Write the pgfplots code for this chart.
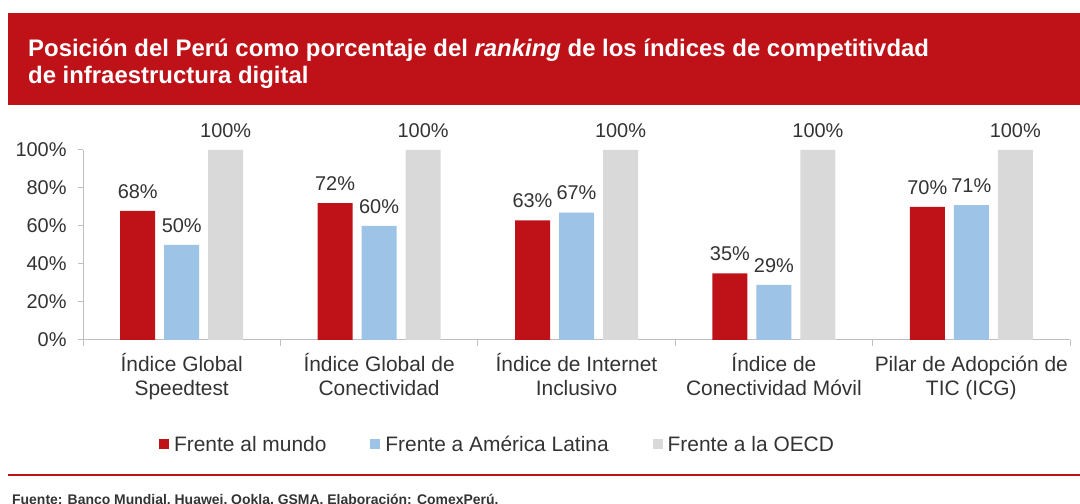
\documentclass[border=0pt]{standalone}
\usepackage{pgfplots}
\pgfplotsset{compat=1.18}
\usepackage{fontspec}
\setmainfont{Liberation Sans}
\definecolor{cxred}{HTML}{BE1218}
\definecolor{cxblue}{HTML}{9DC3E6}
\definecolor{cxgray}{HTML}{D9D9D9}
\definecolor{txt}{HTML}{333333}
\definecolor{axisgray}{HTML}{BFBFBF}
\newcommand{\lblfont}{\fontsize{21}{23.5}\selectfont}
\newcommand{\numfont}{\fontsize{20}{23}\selectfont}

\begin{document}
\begin{tikzpicture}[x=1bp,y=1bp]
\useasboundingbox (0,0) rectangle (1080,504);
% banner with title
\fill[cxred] (8,399) rectangle (1080,491);
\node[anchor=base west, text=white, inner sep=0pt, font=\fontsize{24}{28}\selectfont\bfseries]
  at (28,447) {Posición del Perú como porcentaje del \textit{ranking} de los índices de competitivdad};
\node[anchor=base west, text=white, inner sep=0pt, font=\fontsize{24}{28}\selectfont\bfseries]
  at (28,420) {de infraestructura digital};
% footer
\draw[cxred, line width=2.2bp] (8,29) -- (1080,29);
\node[anchor=base west, inner sep=0pt, text=txt, font=\fontsize{14}{16}\selectfont\bfseries]
  at (12,-1) {Fuente: Banco Mundial, Huawei, Ookla, GSMA. Elaboración: ComexPerú.};

\begin{axis}[
    at={(83bp,164bp)}, anchor=south west,
    scale only axis, width=987bp, height=190bp,
    xmin=-0.5, xmax=4.5, ymin=0, ymax=100,
    clip=false,
    ybar=9bp, bar width=35bp,
    axis lines*=left,
    axis line style={axisgray, line width=1bp},
    ytick={0,20,...,100},
    yticklabel={\pgfmathprintnumber{\tick}\%},
    /pgf/number format/assume math mode=true,
    ytick style={axisgray, line width=1bp},
    tick align=outside, major tick length=5bp,
    xtick={0,...,4},
    xtick style={draw=none},
    xticklabels={{Índice Global\\Speedtest},{Índice Global de\\Conectividad},{Índice de Internet\\Inclusivo},{Índice de\\Conectividad Móvil},{\vphantom{Í}Pilar de Adopción de\\TIC (ICG)}},
    xticklabel style={align=center, font=\lblfont, text=txt, yshift=-5bp},
    yticklabel style={font=\numfont, text=txt, xshift=-8bp},
    extra x ticks={-0.5,0.5,1.5,2.5,3.5,4.5},
    extra x tick labels={},
    extra x tick style={xtick style={draw=axisgray, line width=1bp}, major tick length=6bp},
    nodes near coords={\pgfmathprintnumber{\pgfplotspointmeta}\%},
    nodes near coords style={font=\numfont, text=txt, yshift=9bp},
    legend style={at={(0.420,-0.55)}, anchor=center, draw=none, fill=none,
      legend columns=3, font=\lblfont, text=txt,
      /tikz/every even column/.append style={column sep=42bp}},
    legend image code/.code={\fill[#1] (0bp,-5bp) rectangle (10bp,5bp); \path (13bp,0bp);},
  ]
  \addplot[fill=cxred, draw=none] coordinates {(0,68) (1,72) (2,63) (3,35) (4,70)};
  \addplot[fill=cxblue, draw=none] coordinates {(0,50) (1,60) (2,67) (3,29) (4,71)};
  \addplot[fill=cxgray, draw=none] coordinates {(0,100) (1,100) (2,100) (3,100) (4,100)};
  \legend{Frente al mundo, Frente a América Latina, Frente a la OECD}
\end{axis}
\end{tikzpicture}
\end{document}
